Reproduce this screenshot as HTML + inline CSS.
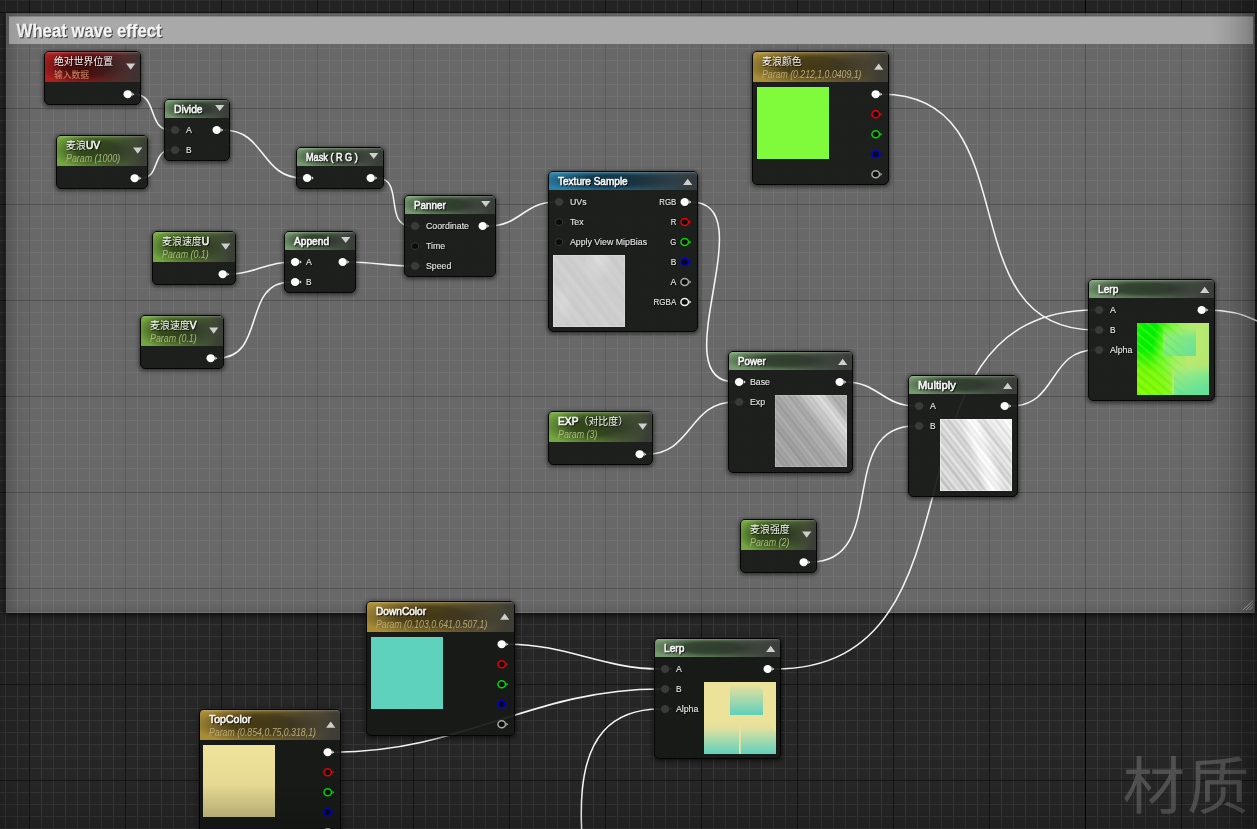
<!DOCTYPE html>
<html><head><meta charset="utf-8"><title>Material Graph</title>
<style>
html,body{margin:0;padding:0}
body{width:1257px;height:829px;overflow:hidden;position:relative;background:#262626;font-family:"Liberation Sans","Noto Sans CJK SC",sans-serif}
#grid{position:absolute;left:0;top:0;width:1257px;height:829px;
background-image:
 linear-gradient(to right,#151515 0,#151515 1px,transparent 1px),
 linear-gradient(to bottom,#151515 0,#151515 1px,transparent 1px),
 linear-gradient(to right,#353535 0,#353535 1px,transparent 1px),
 linear-gradient(to bottom,#353535 0,#353535 1px,transparent 1px);
background-size:96px 96px,96px 96px,12px 12px,12px 12px;
background-position:29px 0,0 12px,5px 0,0 0}
#axis{position:absolute;left:1085px;top:0;width:1px;height:829px;background:#000}
#cm{position:absolute;left:6px;top:13px;width:1249px;height:600px;background:
 linear-gradient(to bottom,rgba(0,0,0,.12) 0,rgba(0,0,0,.12) 1px,transparent 1px) 0 95px/96px 96px,
 rgba(255,255,255,.305);
 box-shadow:inset 1px 0 0 rgba(255,255,255,.05), inset 0 -1px 0 rgba(255,255,255,.07), inset 0 0 12px 1px rgba(0,0,0,.19), 0 2px 5px 1px rgba(0,0,0,.55);border-radius:1px}
#ct{position:absolute;left:3px;top:4px;width:1244px;height:27px;background:#a9a9a9;box-shadow:0 -1px 0 rgba(169,169,169,.55)}
#grip{position:absolute;left:1236px;top:587px}
svg{position:absolute;left:0;top:0}
#over{will-change:transform;opacity:.999}
.tx{font-family:"Liberation Sans","Noto Sans CJK SC",sans-serif}
#wires path{fill:none;stroke:#f4f4f4;stroke-width:1.55}
.nd{position:absolute;box-sizing:border-box;border:1px solid #050505;border-radius:5px;background:rgba(23,26,23,.93);
 box-shadow:0 1px 4px 1px rgba(0,0,0,.55);overflow:hidden}
.hd{position:absolute;left:0;top:0;right:0}
.hd:after{content:"";position:absolute;left:0;top:0;right:0;bottom:0;
 background:
  linear-gradient(to bottom,rgba(255,255,255,.24) 0,rgba(255,255,255,.07) 1.5px,rgba(255,255,255,0) 3px),
  linear-gradient(100deg,rgba(46,46,46,0) 0,rgba(46,46,46,0) 46%,rgba(46,46,46,.60) 72%,rgba(52,52,52,.90) 94%),
  radial-gradient(ellipse 50% 66% at 45% 48%,rgba(0,0,0,.60) 0,rgba(0,0,0,.55) 45%,rgba(0,0,0,.25) 75%,rgba(0,0,0,0) 100%)}
.red{background:#ac2020}
.grn{background:#769a70}
.prm{background:#74a640}
.gld{background:#a88c36}
.blu{background:#2a80a8}
.pv{position:absolute;width:72px;height:72px}
.pcol{background:#80fb3c}
.pdown{background:#5ed2bd}
.ptop{background:linear-gradient(to bottom,#efe29a 0,#e6d993 55%,#c9be82 100%)}
.ptex{box-shadow:inset 0 0 0 1px rgba(255,255,255,.20);background:
 repeating-linear-gradient(52deg,rgba(255,255,255,0) 0,rgba(255,255,255,.05) 2.5px,rgba(0,0,0,.015) 5px,rgba(255,255,255,0) 8.3px),
 repeating-linear-gradient(52deg,rgba(255,255,255,0) 0,rgba(255,255,255,.045) 6px,rgba(0,0,0,.015) 11px,rgba(255,255,255,0) 19px),
 radial-gradient(ellipse 22% 30% at 62% 8%,rgba(255,255,255,.28),rgba(255,255,255,0)),
 radial-gradient(ellipse 18% 30% at 12% 68%,rgba(255,255,255,.20),rgba(255,255,255,0)),
 #cecece}
.ppow{box-shadow:inset 0 0 0 1px rgba(255,255,255,.16);background:
 repeating-linear-gradient(52deg,rgba(255,255,255,0) 0,rgba(255,255,255,.09) 1.3px,rgba(0,0,0,.05) 2.6px,rgba(255,255,255,0) 4.3px),
 repeating-linear-gradient(52deg,rgba(255,255,255,0) 0,rgba(255,255,255,.08) 4px,rgba(0,0,0,.05) 9px,rgba(255,255,255,0) 15.7px),
 linear-gradient(52deg,#a2a2a2 0,#a2a2a2 28%,#a8a8a8 48%,#b0b0b0 60%,#c4c4c4 67%,#dadada 73%,#dedede 77%,#c6c6c6 82%,#b2b2b2 88%,#adadad 100%)}
.pmul{box-shadow:inset 0 0 0 1px rgba(255,255,255,.4);background:
 repeating-linear-gradient(52deg,rgba(255,255,255,0) 0,rgba(255,255,255,.40) 1.4px,rgba(0,0,0,.06) 3px,rgba(255,255,255,0) 4.7px),
 repeating-linear-gradient(52deg,rgba(255,255,255,0) 0,rgba(255,255,255,.30) 4px,rgba(0,0,0,.06) 8px,rgba(255,255,255,0) 13.3px),
 linear-gradient(71deg,rgba(255,255,255,0) 44%,rgba(255,255,255,.96) 53%,rgba(255,255,255,.96) 61%,rgba(255,255,255,0) 70%),
 linear-gradient(52deg,#d0d0d0 0,#d4d4d4 40%,#dadada 60%,#e0e0e0 76%,#f6f6f6 88%,#ffffff 100%)}
.pl1{background:#8fe86a}
.pl2{background:#ede29a}
#wm{position:absolute;left:1122.4px;top:748px;font-size:62.4px;line-height:80px;color:rgba(128,128,128,.47);white-space:nowrap;letter-spacing:2.2px}
#vg{position:absolute;left:0;top:0;width:1257px;height:829px;pointer-events:none;background:
 linear-gradient(to right,rgba(0,0,0,.11) 0,rgba(0,0,0,.08) 10px,rgba(0,0,0,0) 32px),
 linear-gradient(to left,rgba(0,0,0,.30) 0,rgba(0,0,0,.20) 10px,rgba(0,0,0,.07) 28px,rgba(0,0,0,0) 46px),
 linear-gradient(to top,rgba(0,0,0,.16) 0,rgba(0,0,0,.08) 16px,rgba(0,0,0,0) 44px),
 linear-gradient(to bottom,rgba(0,0,0,.10) 0,rgba(0,0,0,0) 14px)}
</style></head>
<body>
<div id="grid"></div><div id="axis"></div>
<div id="cm"><div id="ct"></div><svg id="grip" width="12" height="12" viewBox="0 0 12 12"><path d="M0.6 10.2 L10.8 0.8 M4 10.2 L10.8 3.6 M7.4 10.2 L10.8 6.6" stroke="#b9b9b9" stroke-width="1" fill="none"/></svg></div>
<div id="wm">材质</div>
<svg id="wires" width="1257" height="829" viewBox="0 0 1257 829"><path d="M134.2 94.2 C158.4 94.2 146.7 130.0 170.9 130.0"/><path d="M141.2 178.2 C160.5 178.2 151.6 150.0 170.9 150.0"/><path d="M223.2 130.0 C265.8 130.0 260.3 178.0 302.9 178.0"/><path d="M377.2 178.0 C404.4 178.0 383.7 226.0 410.9 226.0"/><path d="M229.2 274.2 C253.8 274.2 266.3 262.0 290.9 262.0"/><path d="M217.2 358.2 C267.2 358.2 240.9 282.0 290.9 282.0"/><path d="M349.2 262.0 C371.1 262.0 389.0 266.0 410.9 266.0"/><path d="M489.2 226.0 C519.1 226.0 525.0 202.0 554.9 202.0"/><path d="M691.2 202.0 C765.8 202.0 660.3 382.0 734.9 382.0"/><path d="M646.2 454.2 C693.2 454.2 687.9 402.0 734.9 402.0"/><path d="M846.2 382.0 C877.1 382.0 884.0 406.0 914.9 406.0"/><path d="M810.2 562.2 C890.5 562.2 834.6 426.0 914.9 426.0"/><path d="M1011.2 406.0 C1057.8 406.0 1048.3 350.0 1094.9 350.0"/><path d="M882.2 94.2 C1031.7 94.2 945.4 330.0 1094.9 330.0"/><path d="M774.2 669.0 C1000.8 669.0 868.3 310.0 1094.9 310.0"/><path d="M508.2 644.2 C567.4 644.2 601.7 669.0 660.9 669.0"/><path d="M334.2 752.2 C464.2 752.2 530.9 689.0 660.9 689.0"/><path d="M1208.2 310.0 C1328.1 310.0 1300.1 458.0 1420.0 458.0"/><path d="M540.5 1226.5 C753.1 1226.5 448.3 709.0 660.9 709.0"/></svg>
<div class="nd" style="left:44px;top:51px;width:97px;height:54px"><div class="hd red" style="height:30.0px"></div></div><div class="nd" style="left:164px;top:99px;width:66px;height:62px"><div class="hd grn" style="height:17.75px"></div></div><div class="nd" style="left:56px;top:135px;width:92px;height:54px"><div class="hd prm" style="height:30.0px"></div></div><div class="nd" style="left:296px;top:147px;width:88px;height:42px"><div class="hd grn" style="height:17.75px"></div></div><div class="nd" style="left:404px;top:195px;width:92px;height:82px"><div class="hd grn" style="height:17.75px"></div></div><div class="nd" style="left:152px;top:231px;width:84px;height:54px"><div class="hd prm" style="height:30.0px"></div></div><div class="nd" style="left:140px;top:315px;width:84px;height:54px"><div class="hd prm" style="height:30.0px"></div></div><div class="nd" style="left:284px;top:231px;width:72px;height:62px"><div class="hd grn" style="height:17.75px"></div></div><div class="nd" style="left:548px;top:171px;width:150px;height:161px"><div class="hd blu" style="height:17.75px"></div><div class="pv ptex" style="left:4.2px;top:83.2px"></div></div><div class="nd" style="left:752px;top:51px;width:137px;height:134px"><div class="hd gld" style="height:30.0px"></div><div class="pv pcol" style="left:4.0px;top:35.0px"></div></div><div class="nd" style="left:728px;top:351px;width:125px;height:122px"><div class="hd grn" style="height:17.75px"></div><div class="pv ppow" style="left:46.2px;top:43.4px"></div></div><div class="nd" style="left:548px;top:411px;width:105px;height:54px"><div class="hd prm" style="height:30.0px"></div></div><div class="nd" style="left:908px;top:375px;width:110px;height:122px"><div class="hd grn" style="height:17.75px"></div><div class="pv pmul" style="left:31.0px;top:42.6px"></div></div><div class="nd" style="left:740px;top:519px;width:77px;height:54px"><div class="hd prm" style="height:30.0px"></div></div><div class="nd" style="left:1088px;top:279px;width:127px;height:122px"><div class="hd grn" style="height:17.75px"></div><div class="pv pl1" style="overflow:hidden;left:48.0px;top:42.7px"><svg class="pvs" width="72" height="72" viewBox="0 0 72 72" style="left:0;top:0" preserveAspectRatio="none"><defs><linearGradient id="l1a" x1="0" y1="0" x2="1" y2="0.22"><stop offset="0" stop-color="#1cf400"/><stop offset=".12" stop-color="#02f200"/><stop offset=".27" stop-color="#04f000"/><stop offset=".40" stop-color="#66f824"/><stop offset=".58" stop-color="#a2f060"/><stop offset=".78" stop-color="#b8ea72"/><stop offset="1" stop-color="#b6e870"/></linearGradient><radialGradient id="l1e" cx="0" cy="1" r=".66"><stop offset="0" stop-color="#8efa00"/><stop offset=".55" stop-color="#86f806" stop-opacity=".92"/><stop offset="1" stop-color="#84f808" stop-opacity="0"/></radialGradient><linearGradient id="l1b" x1="0" y1="0" x2="1" y2="1"><stop offset="0" stop-color="#9af07a"/><stop offset="1" stop-color="#68e096"/></linearGradient><linearGradient id="l1c" x1="0" y1="0" x2="0.4" y2="1"><stop offset="0" stop-color="#b6ec74"/><stop offset=".25" stop-color="#a2ea82"/><stop offset="1" stop-color="#64e298"/></linearGradient><linearGradient id="l1m" x1="0" y1="0" x2="0" y2="1"><stop offset="0" stop-color="#fff" stop-opacity="0"/><stop offset=".35" stop-color="#fff" stop-opacity="1"/></linearGradient><linearGradient id="l1n" x1="0" y1="0" x2="1" y2="0"><stop offset="0" stop-color="#fff" stop-opacity=".9"/><stop offset=".45" stop-color="#fff" stop-opacity=".8"/><stop offset=".72" stop-color="#fff" stop-opacity="0"/></linearGradient><mask id="l1k"><rect x="26" y="4" width="33" height="29" fill="url(#l1m)"/></mask><mask id="l1k2"><rect x="37" y="40" width="35" height="32" fill="url(#l1m)"/></mask><mask id="l1k3"><rect width="72" height="72" fill="url(#l1n)"/></mask><pattern id="l1p" width="7" height="7" patternUnits="userSpaceOnUse" patternTransform="rotate(40)"><rect width="7" height="1.6" fill="#8cff40" fill-opacity=".55"/><rect y="3.4" width="7" height="1.3" fill="#00ec00" fill-opacity=".45"/></pattern></defs><rect width="72" height="72" fill="url(#l1a)"/><rect width="72" height="72" fill="url(#l1e)"/><rect x="26" y="4" width="33" height="29" fill="url(#l1b)" mask="url(#l1k)"/><rect x="37" y="40" width="35" height="32" fill="url(#l1c)" mask="url(#l1k2)"/><rect width="72" height="72" fill="url(#l1p)" mask="url(#l1k3)" opacity=".75"/><rect x="35.3" y="47" width="1.5" height="25" fill="#b2f05c"/></svg></div></div><div class="nd" style="left:366px;top:601px;width:149px;height:135px"><div class="hd gld" style="height:30.0px"></div><div class="pv pdown" style="left:4.0px;top:35.0px"></div></div><div class="nd" style="left:199px;top:709px;width:142px;height:134px"><div class="hd gld" style="height:30.0px"></div><div class="pv ptop" style="left:3.0px;top:35.0px"></div></div><div class="nd" style="left:654px;top:638px;width:127px;height:121px"><div class="hd grn" style="height:17.75px"></div><div class="pv pl2" style="left:49.2px;top:43.2px"><svg class="pvs" width="72" height="72" viewBox="0 0 72 72" style="left:0;top:0" preserveAspectRatio="none"><defs><linearGradient id="l2a" x1="0" y1="0" x2="0" y2="1"><stop offset="0" stop-color="#e8e09c"/><stop offset="1" stop-color="#5fd0bc"/></linearGradient><linearGradient id="l2b" x1="0" y1="0" x2="0" y2="1"><stop offset="0" stop-color="#ede29a"/><stop offset=".25" stop-color="#e0df9f"/><stop offset="1" stop-color="#5fd2be"/></linearGradient></defs><rect width="72" height="72" fill="#ede29a"/><path d="M26 3 L54 3 L59 8 L59 33 L26 33 Z" fill="url(#l2a)"/><rect x="0" y="38" width="72" height="34" fill="url(#l2b)"/><path d="M62 38 L72 38 L72 50 Z" fill="#ede29a"/><rect x="35" y="36" width="1.8" height="36" fill="#ede29a"/></svg></div></div>
<svg id="over" width="1257" height="829" viewBox="0 0 1257 829"><path d="M126.1 63.49999999999999 L135.29999999999998 63.49999999999999 L130.7 69.69999999999999 Z" fill="#cfcfcf"/><ellipse cx="127.7" cy="94.2" rx="4.2" ry="4.05" fill="#fff"/><path d="M132.3 92.4 L134.3 94.2 L132.3 96.0 Z" fill="#e4e4e4"/><path d="M215.1 104.9 L224.29999999999998 104.9 L219.7 111.1 Z" fill="#cfcfcf"/><ellipse cx="175.1" cy="130.0" rx="4.2" ry="4.05" fill="#3b3b3b"/><path d="M179.7 128.2 L181.7 130.0 L179.7 131.8 Z" fill="#2c2c2c"/><ellipse cx="175.1" cy="150.0" rx="4.2" ry="4.05" fill="#3b3b3b"/><path d="M179.7 148.2 L181.7 150.0 L179.7 151.8 Z" fill="#2c2c2c"/><ellipse cx="216.7" cy="130.0" rx="4.2" ry="4.05" fill="#fff"/><path d="M221.29999999999998 128.2 L223.29999999999998 130.0 L221.29999999999998 131.8 Z" fill="#e4e4e4"/><path d="M133.1 147.5 L142.29999999999998 147.5 L137.7 153.7 Z" fill="#cfcfcf"/><ellipse cx="134.7" cy="178.2" rx="4.2" ry="4.05" fill="#fff"/><path d="M139.29999999999998 176.39999999999998 L141.29999999999998 178.2 L139.29999999999998 180.0 Z" fill="#e4e4e4"/><path d="M369.09999999999997 152.9 L378.3 152.9 L373.7 159.1 Z" fill="#cfcfcf"/><ellipse cx="307.1" cy="178.0" rx="4.2" ry="4.05" fill="#fff"/><path d="M311.70000000000005 176.2 L313.70000000000005 178.0 L311.70000000000005 179.8 Z" fill="#e4e4e4"/><ellipse cx="370.7" cy="178.0" rx="4.2" ry="4.05" fill="#fff"/><path d="M375.3 176.2 L377.3 178.0 L375.3 179.8 Z" fill="#e4e4e4"/><path d="M481.09999999999997 200.9 L490.3 200.9 L485.7 207.1 Z" fill="#cfcfcf"/><ellipse cx="415.1" cy="226.0" rx="4.2" ry="4.05" fill="#3b3b3b"/><path d="M419.70000000000005 224.2 L421.70000000000005 226.0 L419.70000000000005 227.8 Z" fill="#2c2c2c"/><ellipse cx="415.1" cy="246.0" rx="3.6" ry="3.4499999999999997" fill="#0c0c0c" stroke="#333" stroke-width="1.2"/><path d="M419.70000000000005 244.2 L421.70000000000005 246.0 L419.70000000000005 247.8 Z" fill="#2c2c2c"/><ellipse cx="415.1" cy="266.0" rx="4.2" ry="4.05" fill="#3b3b3b"/><path d="M419.70000000000005 264.2 L421.70000000000005 266.0 L419.70000000000005 267.8 Z" fill="#2c2c2c"/><ellipse cx="482.7" cy="226.0" rx="4.2" ry="4.05" fill="#fff"/><path d="M487.3 224.2 L489.3 226.0 L487.3 227.8 Z" fill="#e4e4e4"/><path d="M221.1 243.5 L230.29999999999998 243.5 L225.7 249.7 Z" fill="#cfcfcf"/><ellipse cx="222.7" cy="274.2" rx="4.2" ry="4.05" fill="#fff"/><path d="M227.29999999999998 272.4 L229.29999999999998 274.2 L227.29999999999998 276.0 Z" fill="#e4e4e4"/><path d="M209.1 327.5 L218.29999999999998 327.5 L213.7 333.70000000000005 Z" fill="#cfcfcf"/><ellipse cx="210.7" cy="358.2" rx="4.2" ry="4.05" fill="#fff"/><path d="M215.29999999999998 356.4 L217.29999999999998 358.2 L215.29999999999998 360.0 Z" fill="#e4e4e4"/><path d="M341.09999999999997 236.9 L350.3 236.9 L345.7 243.1 Z" fill="#cfcfcf"/><ellipse cx="295.1" cy="262.0" rx="4.2" ry="4.05" fill="#fff"/><path d="M299.70000000000005 260.2 L301.70000000000005 262.0 L299.70000000000005 263.8 Z" fill="#e4e4e4"/><ellipse cx="295.1" cy="282.0" rx="4.2" ry="4.05" fill="#fff"/><path d="M299.70000000000005 280.2 L301.70000000000005 282.0 L299.70000000000005 283.8 Z" fill="#e4e4e4"/><ellipse cx="342.7" cy="262.0" rx="4.2" ry="4.05" fill="#fff"/><path d="M347.3 260.2 L349.3 262.0 L347.3 263.8 Z" fill="#e4e4e4"/><path d="M683.1 185.0 L692.3000000000001 185.0 L687.7 178.8 Z" fill="#cfcfcf"/><ellipse cx="559.1" cy="202.0" rx="4.2" ry="4.05" fill="#3b3b3b"/><path d="M563.7 200.2 L565.7 202.0 L563.7 203.8 Z" fill="#2c2c2c"/><ellipse cx="559.1" cy="222.0" rx="3.6" ry="3.4499999999999997" fill="#0c0c0c" stroke="#333" stroke-width="1.2"/><path d="M563.7 220.2 L565.7 222.0 L563.7 223.8 Z" fill="#2c2c2c"/><ellipse cx="559.1" cy="242.0" rx="3.6" ry="3.4499999999999997" fill="#0c0c0c" stroke="#333" stroke-width="1.2"/><path d="M563.7 240.2 L565.7 242.0 L563.7 243.8 Z" fill="#2c2c2c"/><ellipse cx="684.7" cy="202.0" rx="4.2" ry="4.05" fill="#fff"/><path d="M689.3000000000001 200.2 L691.3000000000001 202.0 L689.3000000000001 203.8 Z" fill="#e4e4e4"/><ellipse cx="684.7" cy="222.0" rx="3.75" ry="3.55" fill="#0b0b0b" stroke="#e80000" stroke-width="1.55"/><path d="M689.3000000000001 220.2 L691.3000000000001 222.0 L689.3000000000001 223.8 Z" fill="#e80000"/><ellipse cx="684.7" cy="242.0" rx="3.75" ry="3.55" fill="#0b0b0b" stroke="#00d800" stroke-width="1.55"/><path d="M689.3000000000001 240.2 L691.3000000000001 242.0 L689.3000000000001 243.8 Z" fill="#00d800"/><ellipse cx="684.7" cy="262.0" rx="3.75" ry="3.55" fill="#0b0b0b" stroke="#0000e0" stroke-width="1.55"/><path d="M689.3000000000001 260.2 L691.3000000000001 262.0 L689.3000000000001 263.8 Z" fill="#0000e0"/><ellipse cx="684.7" cy="282.0" rx="3.75" ry="3.55" fill="#0b0b0b" stroke="#a8a8a8" stroke-width="1.55"/><path d="M689.3000000000001 280.2 L691.3000000000001 282.0 L689.3000000000001 283.8 Z" fill="#a8a8a8"/><ellipse cx="684.7" cy="302.0" rx="3.75" ry="3.55" fill="#0b0b0b" stroke="#f2f2f2" stroke-width="1.55"/><path d="M689.3000000000001 300.2 L691.3000000000001 302.0 L689.3000000000001 303.8 Z" fill="#f2f2f2"/><path d="M874.1 69.69999999999999 L883.3000000000001 69.69999999999999 L878.7 63.49999999999999 Z" fill="#cfcfcf"/><ellipse cx="875.7" cy="94.2" rx="4.2" ry="4.05" fill="#fff"/><path d="M880.3000000000001 92.4 L882.3000000000001 94.2 L880.3000000000001 96.0 Z" fill="#e4e4e4"/><ellipse cx="875.7" cy="114.2" rx="3.75" ry="3.55" fill="#0b0b0b" stroke="#e80000" stroke-width="1.55"/><path d="M880.3000000000001 112.4 L882.3000000000001 114.2 L880.3000000000001 116.0 Z" fill="#e80000"/><ellipse cx="875.7" cy="134.2" rx="3.75" ry="3.55" fill="#0b0b0b" stroke="#00d800" stroke-width="1.55"/><path d="M880.3000000000001 132.39999999999998 L882.3000000000001 134.2 L880.3000000000001 136.0 Z" fill="#00d800"/><ellipse cx="875.7" cy="154.2" rx="3.75" ry="3.55" fill="#0b0b0b" stroke="#0000e0" stroke-width="1.55"/><path d="M880.3000000000001 152.39999999999998 L882.3000000000001 154.2 L880.3000000000001 156.0 Z" fill="#0000e0"/><ellipse cx="875.7" cy="174.2" rx="3.75" ry="3.55" fill="#0b0b0b" stroke="#a8a8a8" stroke-width="1.55"/><path d="M880.3000000000001 172.39999999999998 L882.3000000000001 174.2 L880.3000000000001 176.0 Z" fill="#a8a8a8"/><path d="M838.1 365.0 L847.3000000000001 365.0 L842.7 358.79999999999995 Z" fill="#cfcfcf"/><ellipse cx="739.1" cy="382.0" rx="4.2" ry="4.05" fill="#fff"/><path d="M743.7 380.2 L745.7 382.0 L743.7 383.8 Z" fill="#e4e4e4"/><ellipse cx="739.1" cy="402.0" rx="4.2" ry="4.05" fill="#3b3b3b"/><path d="M743.7 400.2 L745.7 402.0 L743.7 403.8 Z" fill="#2c2c2c"/><ellipse cx="839.7" cy="382.0" rx="4.2" ry="4.05" fill="#fff"/><path d="M844.3000000000001 380.2 L846.3000000000001 382.0 L844.3000000000001 383.8 Z" fill="#e4e4e4"/><path d="M638.1 423.5 L647.3000000000001 423.5 L642.7 429.70000000000005 Z" fill="#cfcfcf"/><ellipse cx="639.7" cy="454.2" rx="4.2" ry="4.05" fill="#fff"/><path d="M644.3000000000001 452.4 L646.3000000000001 454.2 L644.3000000000001 456.0 Z" fill="#e4e4e4"/><path d="M1003.1 389.0 L1012.3000000000001 389.0 L1007.7 382.79999999999995 Z" fill="#cfcfcf"/><ellipse cx="919.1" cy="406.0" rx="4.2" ry="4.05" fill="#3b3b3b"/><path d="M923.7 404.2 L925.7 406.0 L923.7 407.8 Z" fill="#2c2c2c"/><ellipse cx="919.1" cy="426.0" rx="4.2" ry="4.05" fill="#3b3b3b"/><path d="M923.7 424.2 L925.7 426.0 L923.7 427.8 Z" fill="#2c2c2c"/><ellipse cx="1004.7" cy="406.0" rx="4.2" ry="4.05" fill="#fff"/><path d="M1009.3000000000001 404.2 L1011.3000000000001 406.0 L1009.3000000000001 407.8 Z" fill="#e4e4e4"/><path d="M802.1 531.5 L811.3000000000001 531.5 L806.7 537.7 Z" fill="#cfcfcf"/><ellipse cx="803.7" cy="562.2" rx="4.2" ry="4.05" fill="#fff"/><path d="M808.3000000000001 560.4000000000001 L810.3000000000001 562.2 L808.3000000000001 564.0 Z" fill="#e4e4e4"/><path d="M1200.1000000000001 293.0 L1209.3 293.0 L1204.7 286.79999999999995 Z" fill="#cfcfcf"/><ellipse cx="1099.1" cy="310.0" rx="4.2" ry="4.05" fill="#3b3b3b"/><path d="M1103.6999999999998 308.2 L1105.6999999999998 310.0 L1103.6999999999998 311.8 Z" fill="#2c2c2c"/><ellipse cx="1099.1" cy="330.0" rx="4.2" ry="4.05" fill="#3b3b3b"/><path d="M1103.6999999999998 328.2 L1105.6999999999998 330.0 L1103.6999999999998 331.8 Z" fill="#2c2c2c"/><ellipse cx="1099.1" cy="350.0" rx="4.2" ry="4.05" fill="#3b3b3b"/><path d="M1103.6999999999998 348.2 L1105.6999999999998 350.0 L1103.6999999999998 351.8 Z" fill="#2c2c2c"/><ellipse cx="1201.7" cy="310.0" rx="4.2" ry="4.05" fill="#fff"/><path d="M1206.3 308.2 L1208.3 310.0 L1206.3 311.8 Z" fill="#e4e4e4"/><path d="M500.09999999999997 619.7 L509.3 619.7 L504.7 613.5 Z" fill="#cfcfcf"/><ellipse cx="501.7" cy="644.2" rx="4.2" ry="4.05" fill="#fff"/><path d="M506.3 642.4000000000001 L508.3 644.2 L506.3 646.0 Z" fill="#e4e4e4"/><ellipse cx="501.7" cy="664.2" rx="3.75" ry="3.55" fill="#0b0b0b" stroke="#e80000" stroke-width="1.55"/><path d="M506.3 662.4000000000001 L508.3 664.2 L506.3 666.0 Z" fill="#e80000"/><ellipse cx="501.7" cy="684.2" rx="3.75" ry="3.55" fill="#0b0b0b" stroke="#00d800" stroke-width="1.55"/><path d="M506.3 682.4000000000001 L508.3 684.2 L506.3 686.0 Z" fill="#00d800"/><ellipse cx="501.7" cy="704.2" rx="3.75" ry="3.55" fill="#0b0b0b" stroke="#0000e0" stroke-width="1.55"/><path d="M506.3 702.4000000000001 L508.3 704.2 L506.3 706.0 Z" fill="#0000e0"/><ellipse cx="501.7" cy="724.2" rx="3.75" ry="3.55" fill="#0b0b0b" stroke="#a8a8a8" stroke-width="1.55"/><path d="M506.3 722.4000000000001 L508.3 724.2 L506.3 726.0 Z" fill="#a8a8a8"/><path d="M326.09999999999997 727.7 L335.3 727.7 L330.7 721.5 Z" fill="#cfcfcf"/><ellipse cx="327.7" cy="752.2" rx="4.2" ry="4.05" fill="#fff"/><path d="M332.3 750.4000000000001 L334.3 752.2 L332.3 754.0 Z" fill="#e4e4e4"/><ellipse cx="327.7" cy="772.2" rx="3.75" ry="3.55" fill="#0b0b0b" stroke="#e80000" stroke-width="1.55"/><path d="M332.3 770.4000000000001 L334.3 772.2 L332.3 774.0 Z" fill="#e80000"/><ellipse cx="327.7" cy="792.2" rx="3.75" ry="3.55" fill="#0b0b0b" stroke="#00d800" stroke-width="1.55"/><path d="M332.3 790.4000000000001 L334.3 792.2 L332.3 794.0 Z" fill="#00d800"/><ellipse cx="327.7" cy="812.2" rx="3.75" ry="3.55" fill="#0b0b0b" stroke="#0000e0" stroke-width="1.55"/><path d="M332.3 810.4000000000001 L334.3 812.2 L332.3 814.0 Z" fill="#0000e0"/><ellipse cx="327.7" cy="832.2" rx="3.75" ry="3.55" fill="#0b0b0b" stroke="#a8a8a8" stroke-width="1.55"/><path d="M332.3 830.4000000000001 L334.3 832.2 L332.3 834.0 Z" fill="#a8a8a8"/><path d="M766.1 652.0 L775.3000000000001 652.0 L770.7 645.8 Z" fill="#cfcfcf"/><ellipse cx="665.1" cy="669.0" rx="4.2" ry="4.05" fill="#3b3b3b"/><path d="M669.7 667.2 L671.7 669.0 L669.7 670.8 Z" fill="#2c2c2c"/><ellipse cx="665.1" cy="689.0" rx="4.2" ry="4.05" fill="#3b3b3b"/><path d="M669.7 687.2 L671.7 689.0 L669.7 690.8 Z" fill="#2c2c2c"/><ellipse cx="665.1" cy="709.0" rx="4.2" ry="4.05" fill="#3b3b3b"/><path d="M669.7 707.2 L671.7 709.0 L669.7 710.8 Z" fill="#2c2c2c"/><ellipse cx="767.7" cy="669.0" rx="4.2" ry="4.05" fill="#fff"/><path d="M772.3000000000001 667.2 L774.3000000000001 669.0 L772.3000000000001 670.8 Z" fill="#e4e4e4"/><defs><filter id="tsh" x="-2%" y="-2%" width="104%" height="104%" color-interpolation-filters="sRGB"><feOffset in="SourceAlpha" dx=".8" dy=".9" result="o"/><feComponentTransfer in="o" result="s"><feFuncA type="linear" slope=".62"/></feComponentTransfer><feMerge><feMergeNode in="s"/><feMergeNode in="SourceGraphic"/></feMerge></filter></defs><g class="tx" filter="url(#tsh)"><text y="65.40" font-size="11.3" font-weight="normal" font-style="normal" fill="#f6f6f6" stroke="#f6f6f6" stroke-width="0.62"><tspan x="54.00" font-size="9.87" font-weight="normal" font-style="normal" stroke="none">绝对世界位置</tspan></text><text y="113.00" font-size="11.3" font-weight="normal" font-style="normal" fill="#f6f6f6" stroke="#f6f6f6" stroke-width="0.62"><tspan x="174.00" textLength="28.60" lengthAdjust="spacingAndGlyphs">Divide</tspan></text><text y="133.45" font-size="9.9" font-weight="normal" font-style="normal" fill="#e9e9e9" stroke="#e9e9e9" stroke-width="0.12"><tspan x="185.90" textLength="5.90" lengthAdjust="spacingAndGlyphs">A</tspan></text><text y="153.45" font-size="9.9" font-weight="normal" font-style="normal" fill="#e9e9e9" stroke="#e9e9e9" stroke-width="0.12"><tspan x="185.90" textLength="5.60" lengthAdjust="spacingAndGlyphs">B</tspan></text><text y="149.40" font-size="11.3" font-weight="normal" font-style="normal" fill="#f6f6f6" stroke="#f6f6f6" stroke-width="0.62"><tspan x="66.00" font-size="9.96" font-weight="normal" font-style="normal" stroke="none">麦浪</tspan><tspan x="85.93" textLength="14.21" lengthAdjust="spacingAndGlyphs">UV</tspan></text><text y="161.00" font-size="11.3" font-weight="normal" font-style="normal" fill="#f6f6f6" stroke="#f6f6f6" stroke-width="0.62"><tspan x="306.00" textLength="51.80" lengthAdjust="spacingAndGlyphs">Mask ( R G )</tspan></text><text y="209.00" font-size="11.3" font-weight="normal" font-style="normal" fill="#f6f6f6" stroke="#f6f6f6" stroke-width="0.62"><tspan x="414.00" textLength="31.80" lengthAdjust="spacingAndGlyphs">Panner</tspan></text><text y="229.45" font-size="9.9" font-weight="normal" font-style="normal" fill="#e9e9e9" stroke="#e9e9e9" stroke-width="0.12"><tspan x="425.90" textLength="43.09" lengthAdjust="spacingAndGlyphs">Coordinate</tspan></text><text y="249.45" font-size="9.9" font-weight="normal" font-style="normal" fill="#e9e9e9" stroke="#e9e9e9" stroke-width="0.12"><tspan x="425.90" textLength="19.24" lengthAdjust="spacingAndGlyphs">Time</tspan></text><text y="269.45" font-size="9.9" font-weight="normal" font-style="normal" fill="#e9e9e9" stroke="#e9e9e9" stroke-width="0.12"><tspan x="425.90" textLength="25.47" lengthAdjust="spacingAndGlyphs">Speed</tspan></text><text y="245.40" font-size="11.3" font-weight="normal" font-style="normal" fill="#f6f6f6" stroke="#f6f6f6" stroke-width="0.62"><tspan x="162.00" font-size="9.96" font-weight="normal" font-style="normal" stroke="none">麦浪速度</tspan><tspan x="201.86" textLength="7.39" lengthAdjust="spacingAndGlyphs">U</tspan></text><text y="329.40" font-size="11.3" font-weight="normal" font-style="normal" fill="#f6f6f6" stroke="#f6f6f6" stroke-width="0.62"><tspan x="150.00" font-size="9.96" font-weight="normal" font-style="normal" stroke="none">麦浪速度</tspan><tspan x="189.86" textLength="6.82" lengthAdjust="spacingAndGlyphs">V</tspan></text><text y="245.00" font-size="11.3" font-weight="normal" font-style="normal" fill="#f6f6f6" stroke="#f6f6f6" stroke-width="0.62"><tspan x="294.00" textLength="35.10" lengthAdjust="spacingAndGlyphs">Append</tspan></text><text y="265.45" font-size="9.9" font-weight="normal" font-style="normal" fill="#e9e9e9" stroke="#e9e9e9" stroke-width="0.12"><tspan x="305.90" textLength="5.90" lengthAdjust="spacingAndGlyphs">A</tspan></text><text y="285.45" font-size="9.9" font-weight="normal" font-style="normal" fill="#e9e9e9" stroke="#e9e9e9" stroke-width="0.12"><tspan x="305.90" textLength="5.60" lengthAdjust="spacingAndGlyphs">B</tspan></text><text y="185.00" font-size="11.3" font-weight="normal" font-style="normal" fill="#f6f6f6" stroke="#f6f6f6" stroke-width="0.62"><tspan x="558.00" textLength="69.70" lengthAdjust="spacingAndGlyphs">Texture Sample</tspan></text><text y="205.45" font-size="9.9" font-weight="normal" font-style="normal" fill="#e9e9e9" stroke="#e9e9e9" stroke-width="0.12"><tspan x="569.90" textLength="16.64" lengthAdjust="spacingAndGlyphs">UVs</tspan></text><text y="225.45" font-size="9.9" font-weight="normal" font-style="normal" fill="#e9e9e9" stroke="#e9e9e9" stroke-width="0.12"><tspan x="569.90" textLength="13.71" lengthAdjust="spacingAndGlyphs">Tex</tspan></text><text y="245.45" font-size="9.9" font-weight="normal" font-style="normal" fill="#e9e9e9" stroke="#e9e9e9" stroke-width="0.12"><tspan x="569.90" textLength="77.18" lengthAdjust="spacingAndGlyphs">Apply View MipBias</tspan></text><text y="205.45" font-size="9.9" font-weight="normal" font-style="normal" fill="#e9e9e9" stroke="#e9e9e9" stroke-width="0.12"><tspan x="659.30" textLength="17.00" lengthAdjust="spacingAndGlyphs">RGB</tspan></text><text y="225.45" font-size="9.9" font-weight="normal" font-style="normal" fill="#e9e9e9" stroke="#e9e9e9" stroke-width="0.12"><tspan x="670.70" textLength="5.60" lengthAdjust="spacingAndGlyphs">R</tspan></text><text y="245.45" font-size="9.9" font-weight="normal" font-style="normal" fill="#e9e9e9" stroke="#e9e9e9" stroke-width="0.12"><tspan x="670.30" textLength="6.00" lengthAdjust="spacingAndGlyphs">G</tspan></text><text y="265.45" font-size="9.9" font-weight="normal" font-style="normal" fill="#e9e9e9" stroke="#e9e9e9" stroke-width="0.12"><tspan x="670.70" textLength="5.60" lengthAdjust="spacingAndGlyphs">B</tspan></text><text y="285.45" font-size="9.9" font-weight="normal" font-style="normal" fill="#e9e9e9" stroke="#e9e9e9" stroke-width="0.12"><tspan x="670.40" textLength="5.90" lengthAdjust="spacingAndGlyphs">A</tspan></text><text y="305.45" font-size="9.9" font-weight="normal" font-style="normal" fill="#e9e9e9" stroke="#e9e9e9" stroke-width="0.12"><tspan x="653.55" textLength="22.75" lengthAdjust="spacingAndGlyphs">RGBA</tspan></text><text y="65.40" font-size="11.3" font-weight="normal" font-style="normal" fill="#f6f6f6" stroke="#f6f6f6" stroke-width="0.62"><tspan x="762.00" font-size="9.96" font-weight="normal" font-style="normal" stroke="none">麦浪颜色</tspan></text><text y="365.00" font-size="11.3" font-weight="normal" font-style="normal" fill="#f6f6f6" stroke="#f6f6f6" stroke-width="0.62"><tspan x="738.00" textLength="27.75" lengthAdjust="spacingAndGlyphs">Power</tspan></text><text y="385.45" font-size="9.9" font-weight="normal" font-style="normal" fill="#e9e9e9" stroke="#e9e9e9" stroke-width="0.12"><tspan x="749.90" textLength="20.07" lengthAdjust="spacingAndGlyphs">Base</tspan></text><text y="405.45" font-size="9.9" font-weight="normal" font-style="normal" fill="#e9e9e9" stroke="#e9e9e9" stroke-width="0.12"><tspan x="749.90" textLength="15.18" lengthAdjust="spacingAndGlyphs">Exp</tspan></text><text y="425.40" font-size="11.3" font-weight="normal" font-style="normal" fill="#f6f6f6" stroke="#f6f6f6" stroke-width="0.62"><tspan x="558.00" textLength="20.47" lengthAdjust="spacingAndGlyphs">EXP</tspan><tspan x="578.47" font-size="9.96" font-weight="normal" font-style="normal" stroke="none">（对比度）</tspan></text><text y="389.00" font-size="11.3" font-weight="normal" font-style="normal" fill="#f6f6f6" stroke="#f6f6f6" stroke-width="0.62"><tspan x="918.00" textLength="37.80" lengthAdjust="spacingAndGlyphs">Multiply</tspan></text><text y="409.45" font-size="9.9" font-weight="normal" font-style="normal" fill="#e9e9e9" stroke="#e9e9e9" stroke-width="0.12"><tspan x="929.90" textLength="5.90" lengthAdjust="spacingAndGlyphs">A</tspan></text><text y="429.45" font-size="9.9" font-weight="normal" font-style="normal" fill="#e9e9e9" stroke="#e9e9e9" stroke-width="0.12"><tspan x="929.90" textLength="5.60" lengthAdjust="spacingAndGlyphs">B</tspan></text><text y="533.40" font-size="11.3" font-weight="normal" font-style="normal" fill="#f6f6f6" stroke="#f6f6f6" stroke-width="0.62"><tspan x="750.00" font-size="9.96" font-weight="normal" font-style="normal" stroke="none">麦浪强度</tspan></text><text y="293.00" font-size="11.3" font-weight="normal" font-style="normal" fill="#f6f6f6" stroke="#f6f6f6" stroke-width="0.62"><tspan x="1098.00" textLength="20.40" lengthAdjust="spacingAndGlyphs">Lerp</tspan></text><text y="313.45" font-size="9.9" font-weight="normal" font-style="normal" fill="#e9e9e9" stroke="#e9e9e9" stroke-width="0.12"><tspan x="1109.90" textLength="5.90" lengthAdjust="spacingAndGlyphs">A</tspan></text><text y="333.45" font-size="9.9" font-weight="normal" font-style="normal" fill="#e9e9e9" stroke="#e9e9e9" stroke-width="0.12"><tspan x="1109.90" textLength="5.60" lengthAdjust="spacingAndGlyphs">B</tspan></text><text y="353.45" font-size="9.9" font-weight="normal" font-style="normal" fill="#e9e9e9" stroke="#e9e9e9" stroke-width="0.12"><tspan x="1109.90" textLength="22.53" lengthAdjust="spacingAndGlyphs">Alpha</tspan></text><text y="615.40" font-size="11.3" font-weight="normal" font-style="normal" fill="#f6f6f6" stroke="#f6f6f6" stroke-width="0.62"><tspan x="376.00" textLength="50.10" lengthAdjust="spacingAndGlyphs">DownColor</tspan></text><text y="723.40" font-size="11.3" font-weight="normal" font-style="normal" fill="#f6f6f6" stroke="#f6f6f6" stroke-width="0.62"><tspan x="209.00" textLength="42.10" lengthAdjust="spacingAndGlyphs">TopColor</tspan></text><text y="652.00" font-size="11.3" font-weight="normal" font-style="normal" fill="#f6f6f6" stroke="#f6f6f6" stroke-width="0.62"><tspan x="664.00" textLength="20.40" lengthAdjust="spacingAndGlyphs">Lerp</tspan></text><text y="672.45" font-size="9.9" font-weight="normal" font-style="normal" fill="#e9e9e9" stroke="#e9e9e9" stroke-width="0.12"><tspan x="675.90" textLength="5.90" lengthAdjust="spacingAndGlyphs">A</tspan></text><text y="692.45" font-size="9.9" font-weight="normal" font-style="normal" fill="#e9e9e9" stroke="#e9e9e9" stroke-width="0.12"><tspan x="675.90" textLength="5.60" lengthAdjust="spacingAndGlyphs">B</tspan></text><text y="712.45" font-size="9.9" font-weight="normal" font-style="normal" fill="#e9e9e9" stroke="#e9e9e9" stroke-width="0.12"><tspan x="675.90" textLength="22.53" lengthAdjust="spacingAndGlyphs">Alpha</tspan></text><text y="37.40" font-size="18.8" font-weight="bold" font-style="normal" fill="#f4f4f4" stroke="#f4f4f4" stroke-width="0.3"><tspan x="16.60" textLength="145.00" lengthAdjust="spacingAndGlyphs">Wheat wave effect</tspan></text></g><g class="tx"><text y="78.40" font-size="10.2" font-weight="normal" font-style="italic" fill="#cf8f6c"><tspan x="54.00" font-size="8.75" font-weight="normal" font-style="normal" stroke="none">输入数据</tspan></text><text y="162.40" font-size="10.2" font-weight="normal" font-style="italic" fill="#a9b97a"><tspan x="66.00" textLength="54.11" lengthAdjust="spacingAndGlyphs">Param (1000)</tspan></text><text y="258.40" font-size="10.2" font-weight="normal" font-style="italic" fill="#a9b97a"><tspan x="162.00" textLength="46.73" lengthAdjust="spacingAndGlyphs">Param (0.1)</tspan></text><text y="342.40" font-size="10.2" font-weight="normal" font-style="italic" fill="#a9b97a"><tspan x="150.00" textLength="46.73" lengthAdjust="spacingAndGlyphs">Param (0.1)</tspan></text><text y="78.40" font-size="10.2" font-weight="normal" font-style="italic" fill="#b9ab78"><tspan x="762.00" textLength="99.50" lengthAdjust="spacingAndGlyphs">Param (0.212,1,0.0409,1)</tspan></text><text y="438.40" font-size="10.2" font-weight="normal" font-style="italic" fill="#a9b97a"><tspan x="558.00" textLength="39.35" lengthAdjust="spacingAndGlyphs">Param (3)</tspan></text><text y="546.40" font-size="10.2" font-weight="normal" font-style="italic" fill="#a9b97a"><tspan x="750.00" textLength="39.35" lengthAdjust="spacingAndGlyphs">Param (2)</tspan></text><text y="628.40" font-size="10.2" font-weight="normal" font-style="italic" fill="#b9ab78"><tspan x="376.00" textLength="111.30" lengthAdjust="spacingAndGlyphs">Param (0.103,0.641,0.507,1)</tspan></text><text y="736.40" font-size="10.2" font-weight="normal" font-style="italic" fill="#b9ab78"><tspan x="209.00" textLength="106.90" lengthAdjust="spacingAndGlyphs">Param (0.854,0.75,0.318,1)</tspan></text></g></svg>
<div id="vg"></div>
</body></html>
